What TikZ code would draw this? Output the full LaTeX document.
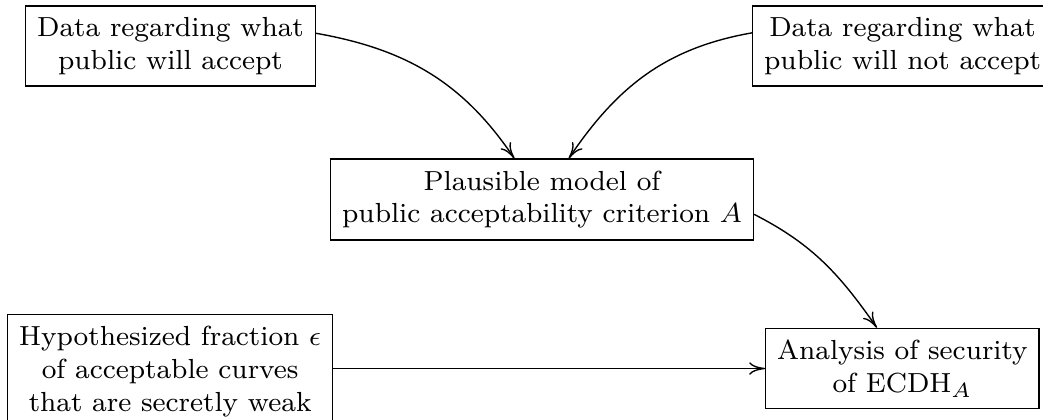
\documentclass[tikz,border=0pt]{standalone}
\usetikzlibrary{arrows.meta}
\begin{document}
\begin{tikzpicture}[x=0.2899pt,y=-0.2899pt,
  >={Computer Modern Rightarrow[length=4.6pt,width=3.6pt]},
  box/.style={draw, align=center, font=\footnotesize},
  conn/.style={->, line width=0.4pt}]
\useasboundingbox (0,0) rectangle (1043,419);
\node[box, anchor=west] (d1) at (25,46) {Data regarding what\\public will accept};
\node[box, anchor=west] (d2) at (752,46) {Data regarding what\\public will not accept};
\node[box, anchor=west] (pm) at (330,199.5) {Plausible model of\\public acceptability criterion $A$};
\node[box, anchor=north west] (hy) at (7,314) {Hypothesized fraction $\epsilon$\\of acceptable curves\\that are secretly weak};
\node[box, anchor=west] (an) at (765,368.5) {Analysis of security\\of ECDH$_A$};
\draw[conn] (d1.5) to[out=-10, in=124] (pm.124);
\draw[conn] (d2.175) to[out=190, in=56] (pm.57);
\draw[conn] (pm.-4) to[out=-27, in=125] (an.122);
\draw[conn] (an.west -| hy.east) -- (an.west);
\end{tikzpicture}
\end{document}
